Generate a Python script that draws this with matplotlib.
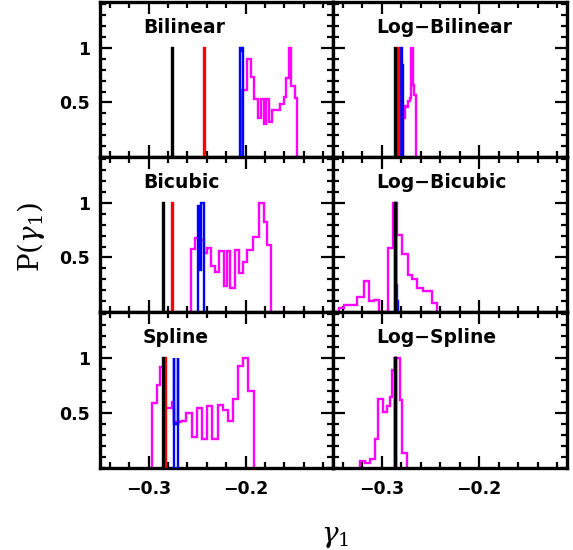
import matplotlib
matplotlib.use('Agg')
import matplotlib.pyplot as plt
from matplotlib.ticker import MultipleLocator, FixedLocator, FixedFormatter

# ---------------- axes / labels ----------------
x_range = [-0.35, -0.11]
y_range = [0.0, 1.42]
x_major_ticks = [-0.3, -0.2]
x_tick_labels = ['\u22120.3', '\u22120.2']
y_major_ticks = [0.5, 1.0]
y_tick_labels = ['0.5', '1']
panel_titles = ['Bilinear', 'Log\u2212Bilinear', 'Bicubic',
                'Log\u2212Bicubic', 'Spline', 'Log\u2212Spline']
x_label = r'$\gamma_1$'
y_label = r'P($\gamma_1$)'

# ---------------- Bilinear ----------------
bil_black_edges = [-0.2757, -0.2749]
bil_black_vals = [1.0]
bil_red_edges = [-0.2427, -0.2419]
bil_red_vals = [1.0]
bil_blue_edges = [-0.2062, -0.2050, -0.2038, -0.2026]
bil_blue_vals = [1.0, 0.97, 1.0]
bil_mag_edges = [-0.2038, -0.1987, -0.1945, -0.1918, -0.1876, -0.1842, -0.1814,
                 -0.1790, -0.1763, -0.1729, -0.1649, -0.1608, -0.1584, -0.1557,
                 -0.1529, -0.1495, -0.1471]
bil_mag_vals = [0.61, 0.90, 0.73, 0.53, 0.36, 0.53, 0.30, 0.53, 0.32, 0.43,
                0.49, 0.55, 0.72, 1.0, 0.65, 0.54]

# ---------------- Log-Bilinear ----------------
lbil_black_edges = [-0.2860, -0.2852]
lbil_black_vals = [1.0]
lbil_red_edges = [-0.2834, -0.2823]
lbil_red_vals = [1.0]
lbil_blue_edges = [-0.2806, -0.2795, -0.2784]
lbil_blue_vals = [1.0, 0.84]
lbil_mag_edges = [-0.2781, -0.2761, -0.2747, -0.2727, -0.2709, -0.2699,
                  -0.2678, -0.2665, -0.2651]
lbil_mag_vals = [0.36, 0.47, 0.46, 0.51, 0.54, 1.0, 0.66, 0.57]

# ---------------- Bicubic ----------------
bic_black_edges = [-0.2849, -0.2841]
bic_black_vals = [1.0]
bic_red_edges = [-0.2757, -0.2749]
bic_red_vals = [1.0]
bic_blue_edges = [-0.2491, -0.2467, -0.2457, -0.2433]
bic_blue_vals = [0.97, 0.385, 1.0]
bic_mag_edges = [-0.2560, -0.2519, -0.2485, -0.2426, -0.2399, -0.2354, -0.2313,
                 -0.2271, -0.2227, -0.2193, -0.2158, -0.2113, -0.2065, -0.2031,
                 -0.1983, -0.1921, -0.1859, -0.1814, -0.1776, -0.1739]
bic_mag_vals = [0.58, 0.68, 0.66, 0.54, 0.59, 0.42, 0.37, 0.56, 0.24, 0.56,
                0.22, 0.57, 0.36, 0.46, 0.57, 0.69, 1.0, 0.82, 0.61]

# ---------------- Log-Bicubic ----------------
lbic_black_edges = [-0.2859, -0.2851]
lbic_black_vals = [1.0]
lbic_red_edges = [-0.2858, -0.2850]
lbic_red_vals = [1.0]
lbic_blue_edges = [-0.2860, -0.2850, -0.2843, -0.2836, -0.2829]
lbic_blue_vals = [1.0, 0.25, 0.10, 0.04]
lbic_mag_edges = [-0.3439, -0.3387, -0.3251, -0.3182, -0.3131, -0.3079, -0.3028,
                  -0.2932, -0.2881, -0.2840, -0.2788, -0.2730, -0.2685, -0.2634,
                  -0.2576, -0.2486, -0.2429]
lbic_mag_vals = [0.034, 0.064, 0.14, 0.28, 0.10, 0.11, 0.0, 0.59, 1.0, 0.71,
                 0.53, 0.34, 0.30, 0.22, 0.19, 0.085]

# ---------------- Spline ----------------
spl_black_edges = [-0.2849, -0.2841]
spl_black_vals = [1.0]
spl_red_edges = [-0.2827, -0.2819]
spl_red_vals = [1.0]
spl_blue_edges = [-0.2742, -0.2735, -0.2700, -0.2693]
spl_blue_vals = [1.0, 0.40, 1.0]
spl_mag_edges = [-0.2965, -0.2913, -0.2887, -0.2828, -0.2759, -0.2742, -0.2666,
                 -0.2611, -0.2553, -0.2501, -0.2449, -0.2398, -0.2346, -0.2289,
                 -0.2233, -0.2186, -0.2130, -0.2082, -0.2027, -0.1979, -0.1918]
spl_mag_vals = [0.59, 0.76, 0.92, 0.55, 0.60, 0.42, 0.43, 0.50, 0.28, 0.55,
                0.26, 0.56, 0.26, 0.57, 0.53, 0.43, 0.63, 0.93, 1.0, 0.70]

# ---------------- Log-Spline ----------------
lspl_black_edges = [-0.2860, -0.2852]
lspl_black_vals = [1.0]
lspl_red_edges = [-0.2859, -0.2851]
lspl_red_vals = [1.0]
lspl_blue_edges = [-0.2859, -0.2851]
lspl_blue_vals = [1.0]
lspl_mag_edges = [-0.3226, -0.3172, -0.3123, -0.3069, -0.3035, -0.2987, -0.2942,
                  -0.2915, -0.2891, -0.2863, -0.2815, -0.2788, -0.2743]
lspl_mag_vals = [0.064, 0.043, 0.083, 0.266, 0.624, 0.51, 0.56, 0.645, 0.89,
                 1.0, 0.62, 0.135]

panels = [
    [(bil_mag_edges, bil_mag_vals), (bil_blue_edges, bil_blue_vals),
     (bil_red_edges, bil_red_vals), (bil_black_edges, bil_black_vals)],
    [(lbil_mag_edges, lbil_mag_vals), (lbil_blue_edges, lbil_blue_vals),
     (lbil_red_edges, lbil_red_vals), (lbil_black_edges, lbil_black_vals)],
    [(bic_mag_edges, bic_mag_vals), (bic_blue_edges, bic_blue_vals),
     (bic_red_edges, bic_red_vals), (bic_black_edges, bic_black_vals)],
    [(lbic_mag_edges, lbic_mag_vals), (lbic_blue_edges, lbic_blue_vals),
     (lbic_red_edges, lbic_red_vals), (lbic_black_edges, lbic_black_vals)],
    [(spl_mag_edges, spl_mag_vals), (spl_blue_edges, spl_blue_vals),
     (spl_red_edges, spl_red_vals), (spl_black_edges, spl_black_vals)],
    [(lspl_mag_edges, lspl_mag_vals), (lspl_blue_edges, lspl_blue_vals),
     (lspl_red_edges, lspl_red_vals), (lspl_black_edges, lspl_black_vals)],
]
series_colors = ['#ff00ff', '#0000ff', '#ff0000', '#000000']

# ---------------- figure ----------------
W, H = 573, 550
fig = plt.figure(figsize=(W / 100, H / 100), dpi=100)

col_px = [(100, 333), (333, 567)]
row_px = [(2, 157), (157, 312), (312, 468)]

for i, series in enumerate(panels):
    r, c = divmod(i, 2)
    x0, x1 = col_px[c]
    y0, y1 = row_px[r]
    ax = fig.add_axes([x0 / W, 1 - y1 / H, (x1 - x0) / W, (y1 - y0) / H])
    for k, (edges, vals) in enumerate(series):
        ax.stairs(vals, edges, baseline=0, fill=False, color=series_colors[k],
                  linewidth=1.7, zorder=2 + k)
    ax.set_xlim(*x_range)
    ax.set_ylim(*y_range)
    ax.xaxis.set_major_locator(FixedLocator(x_major_ticks))
    ax.xaxis.set_minor_locator(MultipleLocator(0.02))
    ax.yaxis.set_major_locator(FixedLocator(y_major_ticks))
    ax.yaxis.set_minor_locator(MultipleLocator(0.1))
    ax.tick_params(which='both', direction='in', top=True, right=True,
                   width=1.6, color='black')
    ax.tick_params(which='major', length=8.5)
    ax.tick_params(which='minor', length=4.5)
    ax.tick_params(axis='x', pad=9)
    ax.tick_params(axis='y', pad=7)
    for sp in ax.spines.values():
        sp.set_linewidth(2.4)
    if r == 2:
        ax.xaxis.set_major_formatter(FixedFormatter(x_tick_labels))
        for lab in ax.get_xticklabels():
            lab.set_fontweight('bold')
            lab.set_fontsize(12.5)
    else:
        ax.set_xticklabels([])
    if c == 0:
        ax.yaxis.set_major_formatter(FixedFormatter(y_tick_labels))
        for lab in ax.get_yticklabels():
            lab.set_fontweight('bold')
            lab.set_fontsize(12.5)
    else:
        ax.set_yticklabels([])
    ax.text(0.185, 0.80, panel_titles[i], transform=ax.transAxes,
            ha='left', va='baseline', fontsize=13.5, fontweight='bold',
            family='DejaVu Sans')

plt.rcParams['mathtext.fontset'] = 'dejavuserif'
fig.text(31 / W, 1 - 237 / H, y_label, rotation=90, ha='center', va='center',
         fontsize=20, family='DejaVu Serif')
fig.text(335 / W, 1 - 537 / H, x_label, ha='center', va='center',
         fontsize=20, family='DejaVu Serif')

fig.savefig('out.png', dpi=100)
